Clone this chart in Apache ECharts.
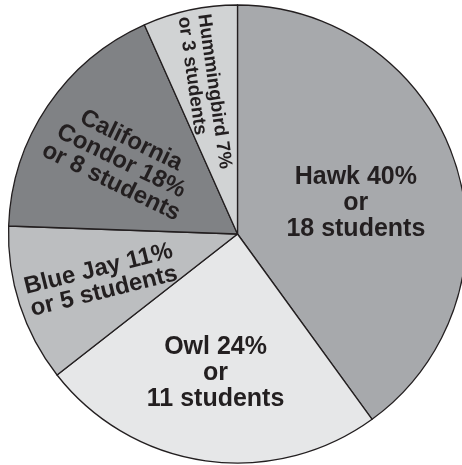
<!DOCTYPE html>
<html>
<head>
<meta charset="utf-8">
<script src="https://cdn.jsdelivr.net/npm/echarts@6/dist/echarts.min.js"></script>
<style>
html,body{margin:0;padding:0;background:#ffffff;}
#chart{width:462px;height:465px;}
</style>
</head>
<body>
<div id="chart"></div>
<script>
// Data
const birds = ['Hawk', 'Owl', 'Blue Jay', 'California\nCondor', 'Hummingbird'];
const students = [18, 11, 5, 8, 3];
const joiners = ['\nor\n', '\nor\n', '\nor ', '\nor ', '\nor '];

// Styles
const sliceColors = ['#a7a9ac', '#e6e7e8', '#bcbec0', '#808285', '#d1d3d4'];
const labelFonts = [25, 25, 24, 24, 19];
const labelLineHeights = [26, 26, 23, 23, 20];
// screen-space nudges from the default inside position, and rotation (deg)
const labelPlacement = [
  {dx: 6.6, dy: 5, rotate: 0},
  {dx: -5.6, dy: 23, rotate: 0},
  {dx: -24.5, dy: 10, rotate: 14},
  {dx: -19, dy: -7, rotate: -26},
  {dx: -8, dy: -22, rotate: -82}
];
const leftAlignedBlockWidth = [0, 0, 0, 0, 165];

const total = students.reduce((a, b) => a + b, 0);
const font = '"Liberation Sans", Arial, Helvetica, sans-serif';
const data = birds.map((b, i) => {
  const text = b + ' ' + Math.round(students[i] / total * 100) + '%' + joiners[i] + students[i] + ' students';
  const label = {
    fontSize: labelFonts[i],
    lineHeight: labelLineHeights[i]
  };
  if (leftAlignedBlockWidth[i]) {
    label.formatter = text.split('\n').map(l => '{a|' + l + '}').join('\n');
    label.rich = {
      a: {
        width: leftAlignedBlockWidth[i],
        align: 'left',
        fontSize: labelFonts[i],
        lineHeight: labelLineHeights[i],
        fontFamily: font,
        fontWeight: 'bold',
        color: '#231f20'
      }
    };
  } else {
    label.formatter = text;
  }
  return {name: b, value: students[i], itemStyle: {color: sliceColors[i]}, label: label};
});

const chart = echarts.init(document.getElementById('chart'), null, {renderer: 'canvas'});
chart.setOption({
  animation: false,
  backgroundColor: '#ffffff',
  series: [{
    type: 'pie',
    center: [237.5, 234],
    radius: [0, 229],
    startAngle: 90,
    clockwise: true,
    avoidLabelOverlap: false,
    silent: true,
    itemStyle: {borderColor: '#231f20', borderWidth: 1.3},
    label: {
      show: true,
      position: 'inside',
      color: '#231f20',
      fontFamily: font,
      fontWeight: 'bold',
      textBorderWidth: 0
    },
    labelLine: {show: false},
    labelLayout: function (params) {
      const p = labelPlacement[params.dataIndex];
      const t = p.rotate * Math.PI / 180;
      // offsets are applied in the label's rotated frame; convert from screen space
      const ldx = p.dx * Math.cos(t) - p.dy * Math.sin(t);
      const ldy = p.dx * Math.sin(t) + p.dy * Math.cos(t);
      return {dx: ldx, dy: ldy, rotate: p.rotate};
    },
    data: data
  }]
});
</script>
</body>
</html>
